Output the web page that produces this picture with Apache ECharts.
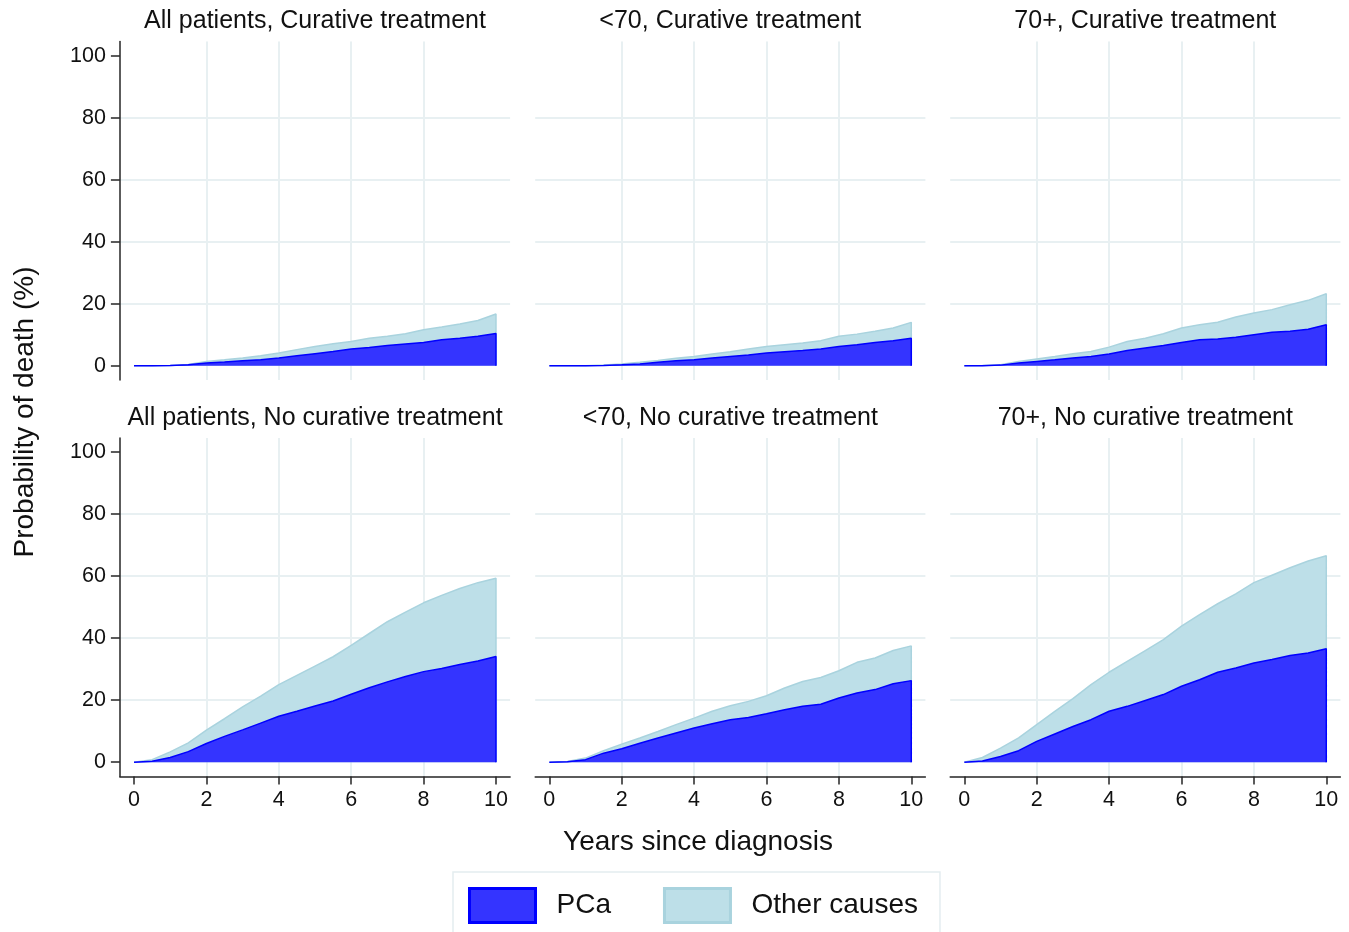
<!DOCTYPE html>
<html>
<head>
<meta charset="utf-8">
<script src="https://cdn.jsdelivr.net/npm/echarts@6.0.0/dist/echarts.min.js"></script>
<style>
html,body{margin:0;padding:0;background:#fff;}
#chart{width:1349px;height:932px;}
</style>
</head>
<body>
<div id="chart"></div>
<script>
// ---- Data ----
const years = [0,0.5,1,1.5,2,2.5,3,3.5,4,4.5,5,5.5,6,6.5,7,7.5,8,8.5,9,9.5,10];
const xTicks = [0,2,4,6,8,10];
const yTicks = [0,20,40,60,80,100];
const panelTitles = [
  'All patients, Curative treatment',
  '<70, Curative treatment',
  '70+, Curative treatment',
  'All patients, No curative treatment',
  '<70, No curative treatment',
  '70+, No curative treatment'
];
const seriesNames = ['PCa', 'Other causes'];

// PCa cumulative probability of death (%) and all-cause (PCa + other causes) top (%)
const pcaAllCur   = [0,0,0.1,0.3,0.9,1.2,1.6,1.9,2.5,3.2,3.9,4.6,5.4,5.9,6.5,7.0,7.5,8.4,8.9,9.5,10.4];
const totalAllCur = [0,0,0.1,0.4,1.4,1.9,2.5,3.2,4.1,5.2,6.2,7.1,7.8,8.9,9.5,10.3,11.6,12.5,13.5,14.6,16.7];
const pcaU70Cur   = [0,0,0,0.1,0.3,0.6,1.1,1.6,1.9,2.5,3.0,3.5,4.1,4.5,4.9,5.4,6.2,6.8,7.5,8.1,8.9];
const totalU70Cur = [0,0,0,0.2,0.6,1.1,1.7,2.4,3.0,3.8,4.5,5.4,6.2,6.8,7.3,8.1,9.5,10.2,11.1,12.2,14.0];
const pcaO70Cur   = [0,0,0.2,0.9,1.4,1.9,2.5,3.0,3.8,4.9,5.7,6.5,7.5,8.4,8.6,9.2,10.0,10.8,11.1,11.8,13.2];
const totalO70Cur = [0,0.1,0.3,1.4,2.2,3.0,3.9,4.6,6.0,7.8,8.9,10.3,12.2,13.2,14.0,15.7,17.0,18.1,19.7,21.1,23.2];
const pcaAllNo    = [0,0.3,1.5,3.4,6.0,8.3,10.4,12.6,14.8,16.4,18.1,19.7,21.9,24.0,25.9,27.6,29.2,30.2,31.5,32.6,34.1];
const totalAllNo  = [0,0.8,3.3,6.2,10.3,14.0,17.8,21.3,25.0,28.0,31.0,34.0,37.7,41.5,45.3,48.4,51.4,53.8,56.0,57.9,59.3];
const pcaU70No    = [0,0.1,0.8,2.9,4.3,6.1,7.8,9.4,11.0,12.4,13.7,14.4,15.6,16.9,18.0,18.7,20.7,22.3,23.4,25.3,26.3];
const totalU70No  = [0,0.2,1.3,3.7,5.8,7.8,9.9,12.1,14.2,16.4,18.2,19.6,21.4,23.9,26.0,27.3,29.5,32.2,33.6,36.0,37.5];
const pcaO70No    = [0,0.4,1.8,3.7,6.7,9.1,11.5,13.7,16.4,18.0,19.9,21.8,24.5,26.6,29.0,30.4,32.0,33.1,34.4,35.2,36.6];
const totalO70No  = [0,1.5,4.5,7.8,12.1,16.4,20.5,25.0,29.0,32.5,36.0,39.5,43.9,47.6,51.1,54.3,57.9,60.3,62.7,64.9,66.6];

const pcaSets = [pcaAllCur, pcaU70Cur, pcaO70Cur, pcaAllNo, pcaU70No, pcaO70No];
const totalSets = [totalAllCur, totalU70Cur, totalO70Cur, totalAllNo, totalU70No, totalO70No];

// ---- Layout & style ----
const FONT = '"Liberation Sans", Arial, Helvetica, sans-serif';
const colLeft = [119.9, 535.2, 950.2];
const rowTop = [41.5, 437.9];
const gridW = 390.2, gridH = 338.5;
const gridColor = '#e8f0f2';
const axisColor = '#262626';
const textColor = '#111111';
const pcaFill = '#3434ff', pcaLine = '#0000ff';
const othFill = '#bddfe8', othLine = '#a9d3de';

const grids = [], xAxes = [], yAxes = [], series = [], titles = [];
for (let i = 0; i < 6; i++) {
  const row = Math.floor(i / 3), col = i % 3;
  grids.push({left: colLeft[col], top: rowTop[row], width: gridW, height: gridH, containLabel: false});
  const showX = row === 1, showY = col === 0;
  xAxes.push({
    type: 'value', gridIndex: i, min: -0.39, max: 10.39,
    axisLine: {show: showX, onZero: false, lineStyle: {color: axisColor, width: 1.5}},
    axisTick: {show: showX, customValues: xTicks, length: 8, lineStyle: {color: axisColor, width: 1.5}},
    axisLabel: {show: showX, customValues: xTicks, margin: 13, fontSize: 21.5, color: textColor, fontFamily: FONT},
    splitLine: {show: true, showMinLine: false, showMaxLine: false, lineStyle: {color: gridColor, width: 2}}
  });
  yAxes.push({
    type: 'value', gridIndex: i, min: -4.6, max: 104.6,
    axisLine: {show: showY, onZero: false, lineStyle: {color: axisColor, width: 1.5}},
    axisTick: {show: showY, customValues: yTicks, length: 9, lineStyle: {color: axisColor, width: 1.5}},
    axisLabel: {show: showY, customValues: yTicks, margin: 14, fontSize: 21.5, color: textColor, fontFamily: FONT},
    splitLine: {show: true, showMinLine: false, showMaxLine: false, lineStyle: {color: gridColor, width: 2}}
  });
  const totData = years.map((t, k) => [t, totalSets[i][k]]);
  totData.push([years[years.length - 1], 0]);
  const pcaData = years.map((t, k) => [t, pcaSets[i][k]]);
  pcaData.push([years[years.length - 1], 0]);
  series.push({
    name: seriesNames[1], type: 'line', xAxisIndex: i, yAxisIndex: i,
    data: totData, showSymbol: false, symbol: 'none', z: 2,
    lineStyle: {color: othLine, width: 1.5},
    itemStyle: {color: othFill, borderColor: othLine},
    areaStyle: {color: othFill, opacity: 1}
  });
  series.push({
    name: seriesNames[0], type: 'line', xAxisIndex: i, yAxisIndex: i,
    data: pcaData, showSymbol: false, symbol: 'none', z: 3,
    lineStyle: {color: pcaLine, width: 1.5},
    itemStyle: {color: pcaFill, borderColor: pcaLine},
    areaStyle: {color: pcaFill, opacity: 1}
  });
  titles.push({
    text: panelTitles[i], left: colLeft[col] + gridW / 2, top: row === 0 ? 9 : 406,
    textAlign: 'center', padding: 0,
    textStyle: {fontSize: 25, fontWeight: 'normal', color: textColor, fontFamily: FONT}
  });
}
titles.push({
  text: 'Years since diagnosis', left: 698, top: 828, textAlign: 'center', padding: 0,
  textStyle: {fontSize: 28, fontWeight: 'normal', color: textColor, fontFamily: FONT}
});

const option = {
  animation: false,
  backgroundColor: '#ffffff',
  title: titles,
  grid: grids,
  xAxis: xAxes,
  yAxis: yAxes,
  series: series,
  legend: {
    left: 453, top: 872, orient: 'horizontal',
    padding: [15, 22, 15, 15],
    borderColor: '#e4edf0', borderWidth: 1.5,
    itemWidth: 66, itemHeight: 34, itemGap: 52,
    icon: 'rect',
    selectedMode: false,
    textStyle: {fontSize: 28, color: textColor, fontFamily: FONT, padding: [0, 0, 0, 16]},
    data: [
      {name: seriesNames[0], itemStyle: {color: pcaFill, borderColor: pcaLine, borderWidth: 3}},
      {name: seriesNames[1], itemStyle: {color: othFill, borderColor: othLine, borderWidth: 3}}
    ]
  },
  graphic: [{
    type: 'text', x: 25, y: 412, rotation: Math.PI / 2,
    style: {text: 'Probability of death (%)', font: '28px ' + FONT, fill: textColor, align: 'center', verticalAlign: 'middle'}
  }]
};

const chart = echarts.init(document.getElementById('chart'), null, {renderer: 'canvas'});
chart.setOption(option);
</script>
</body>
</html>
